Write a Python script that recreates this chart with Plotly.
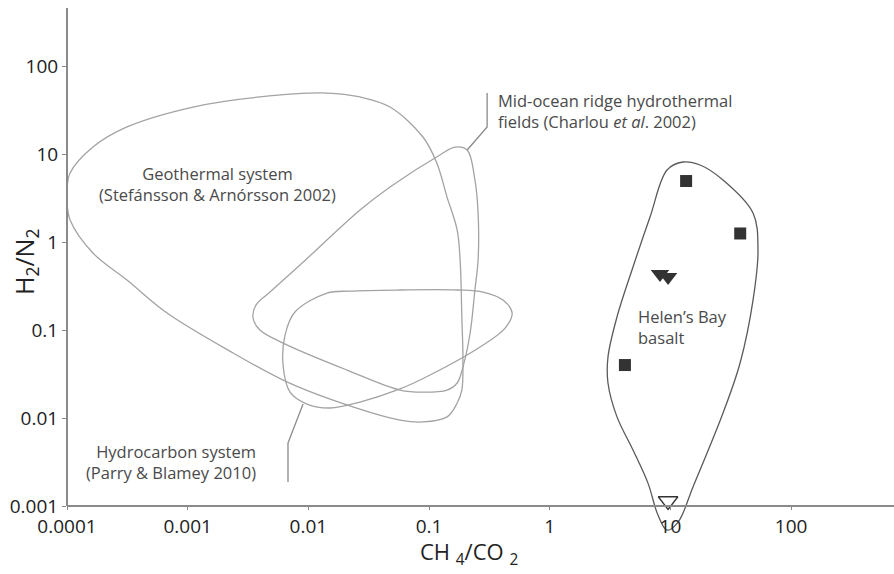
import plotly.graph_objects as go

# ---------------- data ----------------
x_tickvals = [1e-4, 1e-3, 1e-2, 1e-1, 1, 10, 100]
x_ticktext = ["0.0001", "0.001", "0.01", "0.1", "1", "10", "100"]
y_tickvals = [1e-3, 1e-2, 1e-1, 1, 10, 100]
y_ticktext = ["0.001", "0.01", "0.1", "1", "10", "100"]

# Geothermal system field outline (CH4/CO2, H2/N2)
geo_x = [1.0e-4, 1.0e-4, 1.06e-4, 1.64e-4, 3.14e-4, 1.11e-3, 3.97e-3, 1.43e-2, 2.68e-2,
         4.75e-2, 8.91e-2, 0.116, 0.141, 0.171, 0.181, 0.187, 0.191, 0.187, 0.171, 0.141,
         8.91e-2, 5.75e-2, 1.60e-2, 6.17e-3, 2.38e-3, 6.75e-4, 3.14e-4, 1.64e-4, 1.06e-4, 1.0e-4]
geo_y = [2.85, 3.90, 6.08, 12.0, 20.3, 34.2, 44.5, 49.3, 44.5,
         34.2, 15.6, 7.91, 3.24, 1.37, 0.624, 0.141, 0.0456, 0.0208, 0.0148, 0.0103,
         0.00902, 0.00948, 0.0160, 0.0270, 0.0548, 0.156, 0.370, 0.750, 1.78, 2.85]

# Mid-ocean ridge hydrothermal field outline
mor_x = [0.255, 0.255, 0.240, 0.207, 0.164, 0.123, 0.0475, 0.0268, 0.00853, 0.00481,
         0.00368, 0.00348, 0.00397, 0.00617, 0.0209, 0.0575, 0.0891, 0.141, 0.171, 0.191,
         0.219, 0.240, 0.255]
mor_y = [0.624, 2.14, 5.07, 11.1, 12.0, 9.75, 4.22, 2.31, 0.548, 0.270,
         0.192, 0.137, 0.100, 0.0711, 0.0351, 0.0208, 0.0197, 0.0208, 0.0250, 0.0380,
         0.0925, 0.285, 0.624]

# Hydrocarbon system field outline
hc_x = [0.0575, 0.171, 0.280, 0.410, 0.488, 0.427, 0.265, 0.102, 0.0575, 0.0268,
        0.0151, 0.00975, 0.00705, 0.00617, 0.00641, 0.00774, 0.0143, 0.0221, 0.0575]
hc_y = [0.285, 0.285, 0.270, 0.219, 0.156, 0.105, 0.0641, 0.0308, 0.0214, 0.0152,
        0.0130, 0.0144, 0.0197, 0.0400, 0.0877, 0.160, 0.263, 0.277, 0.285]

# Helen's Bay basalt field outline
hb_x = [4.90, 3.61, 3.04, 3.04, 3.61, 4.90, 6.52, 7.89, 9.38, 11.6, 15.4, 27.3, 37.8,
        48.4, 53.2, 48.4, 27.3, 17.6, 12.7, 9.38, 6.78, 4.90]
hb_y = [0.520, 0.141, 0.0493, 0.0250, 0.0103, 0.00433, 0.00182, 0.000790, 0.000533,
        0.000658, 0.00165, 0.0114, 0.0422, 0.219, 0.811, 2.14, 5.07, 7.50, 8.11, 6.58,
        1.92, 0.520]

# Leader lines for labels
mor_leader_x = [0.207, 0.303, 0.303]
mor_leader_y = [11.1, 20.3, 49.3]
hc_leader_x = [0.00904, 0.00678, 0.00678]
hc_leader_y = [0.0144, 0.00520, 0.00188]

# Samples
sq_x = [13.5, 37.9, 4.2]
sq_y = [4.93, 1.25, 0.0400]
tri_x = [8.2, 9.57]
tri_y = [0.433, 0.400]
open_tri_x = [9.57]
open_tri_y = [0.00114]

# ---------------- figure ----------------
FONT = "Open Sans"
FIELD = "#a3a3a3"
AXIS = "#8a8a8a"
TXT = "#4a4a4a"
LABEL_SIZE = 16.5

fig = go.Figure()

def outline(x, y, color, width=1.3):
    fig.add_trace(go.Scatter(x=x, y=y, mode="lines", line=dict(color=color, width=width, shape="spline", smoothing=1.0),
                             hoverinfo="skip", showlegend=False))

outline(geo_x, geo_y, FIELD)
outline(mor_x, mor_y, FIELD)
outline(hc_x, hc_y, FIELD)
outline(hb_x, hb_y, "#5a5a5a", 1.3)

for lx, ly in [(mor_leader_x, mor_leader_y), (hc_leader_x, hc_leader_y)]:
    fig.add_trace(go.Scatter(x=lx, y=ly, mode="lines", line=dict(color="#8a8a8a", width=1.3),
                             hoverinfo="skip", showlegend=False))

fig.add_trace(go.Scatter(x=sq_x, y=sq_y, mode="markers", showlegend=False, cliponaxis=False,
                         marker=dict(symbol="square", size=12, color="#333333")))
fig.add_trace(go.Scatter(x=tri_x, y=tri_y, mode="markers", showlegend=False, cliponaxis=False,
                         marker=dict(symbol="triangle-down", size=16, color="#333333")))
fig.add_trace(go.Scatter(x=open_tri_x, y=open_tri_y, mode="markers", showlegend=False, cliponaxis=False,
                         marker=dict(symbol="triangle-down-open", size=17, color="#333333",
                                     line=dict(width=1.3, color="#333333"))))

# plot area geometry
YMIN, YMAX = -3.386, 2.659
xpos = (-3 - YMIN) / (YMAX - YMIN)

fig.update_layout(
    width=894, height=574,
    margin=dict(l=67, r=0, t=8, b=34),
    paper_bgcolor="white", plot_bgcolor="white",
    font=dict(family=FONT, color="#222222"),
    xaxis=dict(type="log", range=[-4, 2.853], tickvals=x_tickvals, ticktext=x_ticktext,
               showgrid=False, zeroline=False, showline=True, linecolor=AXIS, linewidth=2,
               ticks="outside", ticklen=3, tickcolor=AXIS, tickwidth=1,
               tickfont=dict(size=19, color="#222222", family=FONT),
               anchor="free", position=xpos),
    yaxis=dict(type="log", range=[YMIN, YMAX], tickvals=y_tickvals, ticktext=y_ticktext,
               showgrid=False, zeroline=False, showline=False,
               ticks="outside", ticklen=4, tickcolor=AXIS, tickwidth=1,
               tickfont=dict(size=19, color="#222222", family=FONT)),
    shapes=[dict(type="line", xref="paper", yref="paper", x0=0, x1=0, y0=xpos, y1=1,
                 line=dict(color=AXIS, width=2))],
)

ann = []
ann.append(dict(x=-2.749, y=0.659, xref="x", yref="y", showarrow=False, xanchor="center", yanchor="middle",
                align="center", text="Geothermal system<br>(Stefánsson & Arnórsson 2002)",
                font=dict(size=LABEL_SIZE, color=TXT, family=FONT)))
ann.append(dict(x=-0.445, y=1.489, xref="x", yref="y", showarrow=False, xanchor="left", yanchor="middle",
                align="left", text="Mid-ocean ridge hydrothermal<br>fields (Charlou <i>et al</i>. 2002)",
                font=dict(size=LABEL_SIZE, color=TXT, family=FONT)))
ann.append(dict(x=-2.417, y=-2.5, xref="x", yref="y", showarrow=False, xanchor="right", yanchor="middle",
                align="right", text="Hydrocarbon system<br>(Parry & Blamey 2010)",
                font=dict(size=LABEL_SIZE, color=TXT, family=FONT)))
ann.append(dict(x=0.718, y=-0.966, xref="x", yref="y", showarrow=False, xanchor="left", yanchor="middle",
                align="left", text="Helen’s Bay<br>basalt",
                font=dict(size=LABEL_SIZE, color=TXT, family=FONT)))
# axis titles
ann.append(dict(x=0.486, y=-13 / 532, xref="paper", yref="paper", showarrow=False, xanchor="center",
                yanchor="middle", text="CH <sub>4</sub>/CO <sub>2</sub>",
                font=dict(size=22, color="#222222", family=FONT)))
ann.append(dict(x=-42 / 827, y=(540 - 262) / 532, xref="paper", yref="paper", showarrow=False,
                xanchor="center", yanchor="middle", textangle=-90, text="H<sub>2</sub>/N<sub>2</sub>",
                font=dict(size=25, color="#222222", family=FONT)))
fig.update_layout(annotations=ann)

fig.write_html("out.html")
